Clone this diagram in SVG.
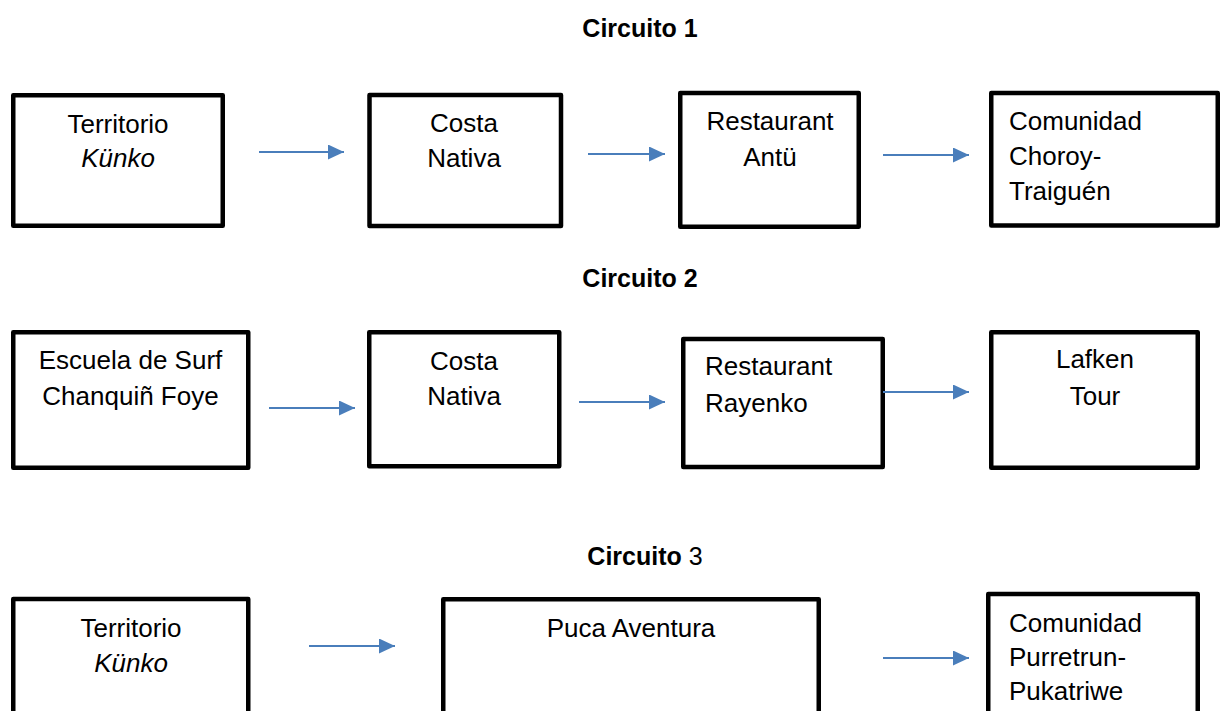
<svg xmlns="http://www.w3.org/2000/svg" width="1221" height="711" viewBox="0 0 1221 711">
<style>
.box{fill:#fff;stroke:#000;stroke-width:4.5;stroke-linejoin:round}
.t{font-family:"Liberation Sans",Arial,sans-serif;font-size:26px;fill:#000}
.c{text-anchor:middle}
.title{font-family:"Liberation Sans",Arial,sans-serif;font-size:25px;font-weight:bold;text-anchor:middle;fill:#000}
.arr{stroke:#4a7ebb;stroke-width:2;fill:none;marker-end:url(#ah)}
</style>
<defs>
<marker id="ah" markerUnits="userSpaceOnUse" markerWidth="16" markerHeight="15" refX="16" refY="7.5" orient="auto">
<path d="M0,0 L16,7.5 L0,15 z" fill="#4a7ebb"/>
</marker>
</defs>
<rect width="1221" height="711" fill="#fff"/>
<text class="title" x="640" y="37">Circuito 1</text>
<text class="title" x="640" y="287">Circuito 2</text>
<text class="title" x="645" y="565">Circuito <tspan font-weight="normal">3</tspan></text>

<g id="c1-territorio"><rect class="box" x="13.25" y="95.25" width="209.5" height="130.5"/>
<text class="t c" x="118" y="133">Territorio</text><text class="t c" x="118" y="167" font-style="italic">Künko</text></g>
<g id="c1-costa"><rect class="box" x="369.5" y="95" width="191.5" height="131"/>
<text class="t c" x="464" y="132">Costa</text><text class="t c" x="464" y="167">Nativa</text></g>
<g id="c1-antu"><rect class="box" x="680.25" y="93" width="178.5" height="133.75"/>
<text class="t c" x="770" y="130">Restaurant</text><text class="t c" x="770" y="166">Antü</text></g>
<g id="c1-choroy"><rect class="box" x="991.25" y="93" width="226.5" height="132.5"/>
<text class="t" x="1009" y="129.5">Comunidad</text><text class="t" x="1009" y="165">Choroy-</text><text class="t" x="1009" y="200">Traiguén</text></g>

<g id="c2-escuela"><rect class="box" x="13.25" y="332.25" width="235" height="135.5"/>
<text class="t c" x="130.5" y="369">Escuela de Surf</text><text class="t c" x="130.5" y="405">Chanquiñ Foye</text></g>
<g id="c2-costa"><rect class="box" x="369.25" y="332.25" width="190" height="134"/>
<text class="t c" x="464" y="370">Costa</text><text class="t c" x="464" y="405">Nativa</text></g>
<g id="c2-rayenko"><rect class="box" x="683.25" y="339" width="199.5" height="128"/>
<text class="t" x="705" y="375">Restaurant</text><text class="t" x="705" y="412">Rayenko</text></g>
<g id="c2-lafken"><rect class="box" x="991.25" y="332.25" width="206.5" height="135.5"/>
<text class="t c" x="1095" y="368">Lafken</text><text class="t c" x="1095" y="405">Tour</text></g>

<g id="c3-territorio"><rect class="box" x="13.25" y="599" width="235" height="140"/>
<text class="t c" x="131" y="637">Territorio</text><text class="t c" x="131" y="672" font-style="italic">Künko</text></g>
<g id="c3-puca"><rect class="box" x="443.25" y="599.25" width="375.5" height="140"/>
<text class="t c" x="631" y="637">Puca Aventura</text></g>
<g id="c3-purretrun"><rect class="box" x="988.25" y="594" width="209.5" height="145"/>
<text class="t" x="1009" y="632">Comunidad</text><text class="t" x="1009" y="666">Purretrun-</text><text class="t" x="1009" y="700">Pukatriwe</text></g>

<g id="connectors">
<line class="arr" x1="259" y1="152" x2="344" y2="152"/>
<line class="arr" x1="588" y1="154" x2="665" y2="154"/>
<line class="arr" x1="883" y1="155" x2="969" y2="155"/>
<line class="arr" x1="269" y1="408" x2="355" y2="408"/>
<line class="arr" x1="579" y1="402" x2="665" y2="402"/>
<line class="arr" x1="883" y1="392" x2="969" y2="392"/>
<line class="arr" x1="309" y1="646" x2="395" y2="646"/>
<line class="arr" x1="883" y1="658" x2="969" y2="658"/>
</g>
</svg>
